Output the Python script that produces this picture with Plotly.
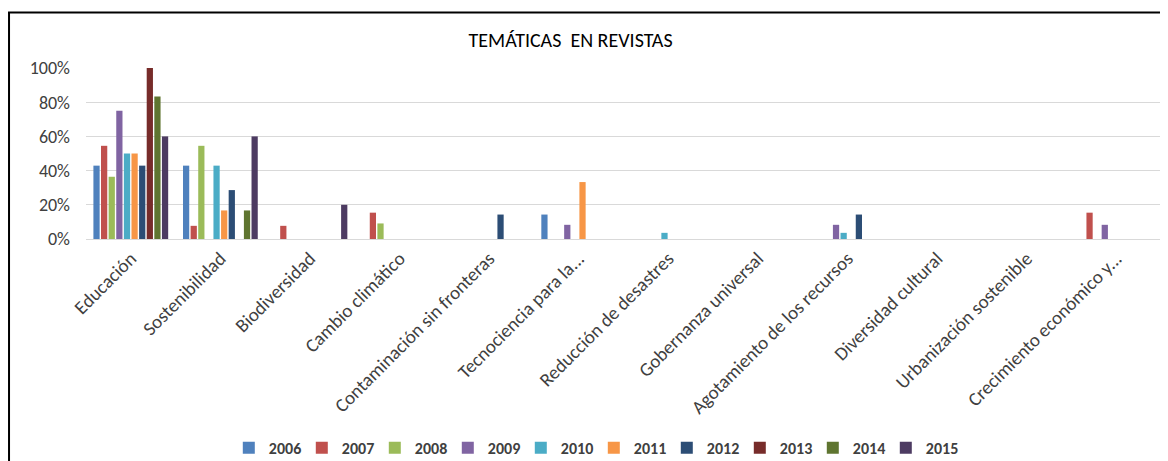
import plotly.graph_objects as go

# categories (x axis)
categorias = ['Educación', 'Sostenibilidad', 'Biodiversidad', 'Cambio climático',
              'Contaminación sin fronteras', 'Tecnociencia para la...',
              'Reducción de desastres', 'Gobernanza universal',
              'Agotamiento de los recursos', 'Diversidad cultural',
              'Urbanización sostenible', 'Crecimiento económico y...']

anios = ['2006', '2007', '2008', '2009', '2010', '2011', '2012', '2013', '2014', '2015']

# percentage per year, one value per category
v2006 = [42.9, 42.9, 0, 0, 0, 14.3, 0, 0, 0, 0, 0, 0]
v2007 = [54.5, 7.7, 7.7, 15.4, 0, 0, 0, 0, 0, 0, 0, 15.4]
v2008 = [36.4, 54.5, 0, 9.1, 0, 0, 0, 0, 0, 0, 0, 0]
v2009 = [75.0, 0, 0, 0, 0, 8.3, 0, 0, 8.3, 0, 0, 8.3]
v2010 = [50.0, 42.9, 0, 0, 0, 0, 3.6, 0, 3.6, 0, 0, 0]
v2011 = [50.0, 16.7, 0, 0, 0, 33.3, 0, 0, 0, 0, 0, 0]
v2012 = [42.9, 28.6, 0, 0, 14.3, 0, 0, 0, 14.3, 0, 0, 0]
v2013 = [100.0, 0, 0, 0, 0, 0, 0, 0, 0, 0, 0, 0]
v2014 = [83.3, 16.7, 0, 0, 0, 0, 0, 0, 0, 0, 0, 0]
v2015 = [60.0, 60.0, 20.0, 0, 0, 0, 0, 0, 0, 0, 0, 0]

valores = [v2006, v2007, v2008, v2009, v2010, v2011, v2012, v2013, v2014, v2015]

ticks_y = [0, 20, 40, 60, 80, 100]
ticks_y_txt = ['0%', '20%', '40%', '60%', '80%', '100%']

# excel 2010 palette
colores = ['#4F81BD', '#C0504D', '#9BBB59', '#8064A2', '#4BACC6',
           '#F79646', '#2C4D75', '#772C2A', '#5F7530', '#4D3B62']

fuente = "Carlito, 'Open Sans', sans-serif"

fig = go.Figure()
for anio, vals, col in zip(anios, valores, colores):
    fig.add_trace(go.Bar(x=categorias, y=vals, name=anio, marker_color=col,
                         marker_line_width=0))

# page body adds 8px around the figure, so the figure is a bit smaller
fig.update_layout(
    width=1160, height=453,
    paper_bgcolor='white', plot_bgcolor='white',
    margin=dict(l=78, r=7, t=60, b=222),
    barmode='group', bargap=0.15, bargroupgap=0.18,
    font=dict(family=fuente, size=16, color='#404040'),
    title=dict(text='TEMÁTICAS \u00a0EN REVISTAS', x=0.485, xref='container',
               y=0.929, yref='container', xanchor='center', yanchor='middle',
               font=dict(size=20, color='#000000')),
    legend=dict(orientation='h', x=0.505, xref='container', xanchor='center',
                y=0.029, yref='container', yanchor='middle',
                font=dict(size=16, color='#404040', weight='bold'),
                itemwidth=30, entrywidth=28, traceorder='normal'),
    shapes=[dict(type='rect', xref='paper', yref='paper',
                 x0=-0.0716, x1=1.02, y0=-1.6, y1=1.325,
                 line=dict(color='black', width=2), fillcolor='rgba(0,0,0,0)',
                 layer='below')],
)

fig.update_xaxes(tickangle=-45, tickfont=dict(size=19, color='#404040'),
                 showline=True, linecolor='#d9d9d9', ticks='', showgrid=False,
                 automargin=False)
fig.update_yaxes(range=[0, 100], tickvals=ticks_y, ticktext=ticks_y_txt,
                 gridcolor='#d9d9d9', gridwidth=1, zeroline=False, showline=False,
                 tickfont=dict(size=18, color='#404040'), automargin=False,
                 ticklabelstandoff=15)

fig.write_html("out.html")
